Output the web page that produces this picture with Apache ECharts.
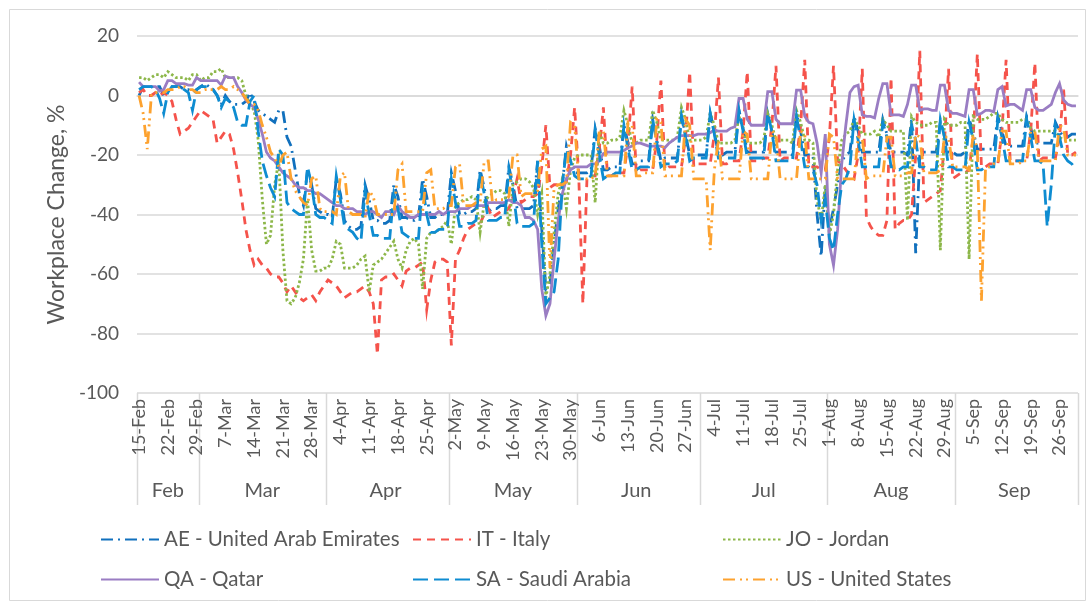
<!DOCTYPE html>
<html>
<head>
<meta charset="utf-8">
<script src="https://cdn.jsdelivr.net/npm/echarts@6/dist/echarts.min.js"></script>
<style>
  html, body { margin: 0; padding: 0; background: #fff; }
  #chart { width: 1092px; height: 605px; }
</style>
</head>
<body>
<div id="chart"></div>
<script>
// date range 15-Feb .. 30-Sep (2020), one point per day
const months = ['Feb', 'Mar', 'Apr', 'May', 'Jun', 'Jul', 'Aug', 'Sep'];
const monthFirstDay = [15, 1, 1, 1, 1, 1, 1, 1];
const monthLastDay = [29, 31, 30, 31, 30, 31, 31, 30];

// values by week, Sat..Fri
const ae = [
  0, 3, 3, 3, 3, 3, 0,
  2, 3, 3, 3, 2, 2, 1,
  2, 3, 4, 3, 2, 0, -3,
  0, -2, -3, -3, -3, -2, 1,
  -2, -5, -6, -7, -8, -9, -5,
  -5, -14, -17, -25, -33, -37, -25,
  -30, -38, -39, -40, -40, -41, -28,
  -33, -42, -44, -45, -45, -44, -30,
  -35, -42, -42, -43, -43, -42, -30,
  -34, -41, -41, -42, -42, -41, -28,
  -34, -41, -41, -40, -40, -40, -26,
  -32, -40, -40, -39, -39, -38, -25,
  -31, -39, -38, -38, -37, -37, -24,
  -30, -38, -38, -38, -38, -37, -22,
  -45, -65, -63, -50, -38, -30, -17,
  -22, -26, -26, -26, -26, -25, -11,
  -17, -25, -25, -24, -24, -24, -10,
  -16, -23, -23, -22, -22, -22, -8,
  -15, -22, -21, -21, -21, -21, -7,
  -13, -20, -20, -20, -20, -20, -6,
  -12, -20, -20, -19, -19, -19, -5,
  -11, -19, -19, -19, -19, -19, -6,
  -12, -19, -19, -19, -19, -20, -6,
  -12, -20, -20, -20, -40, -54, -30,
  -45, -38, -30, -22, -20, -19, -7,
  -12, -19, -19, -19, -19, -19, -8,
  -13, -19, -19, -19, -19, -20, -8,
  -53, -20, -19, -19, -19, -19, -9,
  -13, -19, -19, -20, -20, -19, -8,
  -12, -18, -18, -18, -18, -18, -7,
  -12, -17, -17, -17, -17, -17, -7,
  -11, -16, -16, -16, -16, -16, -9,
  -12, -14, -14, -13, -13
];
const it = [
  1, 2, 0, 0, 1, 0, 1,
  0, -2, -8, -13, -12, -11, -9,
  -7, -5, -6, -7, -8, -16, -14,
  -12, -13, -18, -26, -35, -45, -52,
  -57, -55, -57, -58, -60, -61, -61,
  -63, -66, -64, -66, -68, -69, -68,
  -67, -69, -66, -64, -62, -63, -64,
  -66, -68, -67, -66, -66, -65, -64,
  -66, -70, -87, -62, -61, -61, -60,
  -62, -64, -59, -58, -58, -57, -56,
  -72, -62, -56, -55, -55, -56, -84,
  -55, -52, -48, -45, -44, -43, -43,
  -40, -38, -41, -40, -39, -39, -38,
  -34, -28, -36, -35, -34, -34, -33,
  -24, -10, -31, -30, -30, -29, -29,
  -20, -4, -27, -70, -28, -27, -27,
  -18, -4, -27, -27, -26, -26, -26,
  -16, 3, -26, -25, -25, -25, -25,
  -15, 5, -25, -24, -24, -24, -24,
  -14, 8, -24, -23, -23, -23, -23,
  -13, 6, -23, -23, -22, -22, -22,
  -12, 8, -22, -22, -22, -21, -21,
  -10, 10, -22, -21, -21, -21, -21,
  -10, 12, -24, -24, -24, -25, -25,
  -14, 10, -22, -23, -25, -27, -28,
  -20, 9, -41, -44, -46, -47, -47,
  -42, 6, -45, -43, -42, -42, -40,
  -20, 15, -36, -35, -34, -33, -32,
  -16, 9, -28, -27, -26, -26, -25,
  -14, 14, -24, -24, -23, -23, -23,
  -12, 12, -22, -22, -22, -22, -22,
  -12, 11, -22, -21, -21, -21, -21,
  -14, 2, -20, -20, -19
];
const jo = [
  6, 6, 5, 6, 7, 7, 6,
  8, 7, 6, 6, 6, 5, 7,
  7, 5, 6, 6, 8, 8, 9,
  6, 6, 6, 6, 5, 0, -3,
  -5, -15, -35, -50, -47, -30, -22,
  -52, -69, -70, -68, -63, -55, -35,
  -52, -59, -59, -58, -58, -55, -49,
  -50, -58, -58, -58, -57, -55, -54,
  -66, -57, -56, -55, -53, -51, -49,
  -55, -58, -52, -49, -48, -50, -65,
  -48, -46, -46, -45, -44, -42, -50,
  -37, -36, -35, -35, -34, -35, -46,
  -36, -34, -33, -32, -32, -33, -44,
  -30, -29, -28, -28, -29, -31, -40,
  -33, -68, -60, -46, -33, -28, -38,
  -25, -21, -20, -20, -20, -20, -36,
  -12, -16, -16, -15, -15, -14, -5,
  -10, -16, -16, -15, -15, -15, -5,
  -9, -15, -15, -15, -15, -14, -4,
  -8, -15, -15, -15, -15, -14, -6,
  -10, -16, -16, -16, -16, -15, -7,
  -11, -16, -16, -16, -16, -15, -6,
  -10, -15, -15, -15, -15, -16, -5,
  -9, -15, -15, -16, -35, -42, -30,
  -47, -40, -25, -15, -13, -12, -8,
  -10, -13, -13, -13, -12, -14, -8,
  -10, -12, -12, -12, -12, -42, -7,
  -9, -10, -10, -10, -9, -9, -52,
  -8, -10, -10, -10, -9, -9, -55,
  -7, -8, -8, -8, -7, -6, -6,
  -8, -9, -9, -9, -9, -8, -8,
  -11, -12, -12, -12, -12, -12, -12,
  -14, -15, -15, -15, -15
];
const qa = [
  4.5, 3, 3, 3, 3, 1.5, 2,
  5, 5, 4, 4, 4, 3.5, 3.5,
  6, 5, 5, 5, 5, 5, 3.5,
  6.5, 6, 6, 3, 1, -1.5, -3,
  -4, -8, -13, -19, -21, -22, -24,
  -26, -27, -28, -30, -31, -31, -32,
  -32, -33, -33, -34, -35, -36, -37,
  -37, -38, -38, -38, -39, -39, -40,
  -39, -39, -40, -41, -39, -39, -40,
  -37, -39, -40, -41, -41, -40, -40,
  -40, -40, -40, -39, -40, -39, -39,
  -39, -38, -38, -38, -37, -37, -37,
  -37, -36, -36, -36, -36, -36, -35,
  -36, -36, -37, -41, -41, -42, -45,
  -65, -74, -70, -55, -42, -33, -28,
  -25, -24, -24, -24, -24, -23, -23,
  -22, -19.5, -19, -19, -19, -19, -18.5,
  -17.5, -17, -16, -16, -16.5, -17, -17,
  -17, -17, -17.5, -16, -15, -14, -13.5,
  -13.5, -13.5, -13.5, -13, -13, -13, -12.5,
  -11.5, -12, -12, -12, -11, -10.5, -1,
  -1, -8, -10, -10, -10, -10, 1.3,
  1.3, -8, -9.5, -9.5, -9.5, -9.5, 1.8,
  1.8, -7, -9, -9.5, -16, -26, -13,
  -50, -57, -45, -23, -10, 1, 3,
  3.5, -6.5, -7, -7, -7.5, -1, 4,
  4, -6.5, -6.5, -6.5, -7, -3, 3.5,
  3.5, -5, -4.5, -4.5, -5, -5, 3.5,
  3.5, -5, -6, -6, -6.5, -7, 2,
  2, -6.5, -6, -5, -5, -5.5, 2,
  3, -3.5, -3, -3, -4, -5, 2,
  2, -4, -5, -5, -4, -3, 1,
  4, -1.5, -3, -3.5, -3.5
];
const sa = [
  2, 3, 3, 3, 2, -1, -6,
  1, 3, 3, 3, 2, 1, -5,
  2, 3, 3, 3, 2, 0, -4,
  -1, -2, -4, -9, -10, -10, -2,
  0, -12, -22, -27, -31, -34, -18,
  -20, -36, -38, -39, -40, -40, -24,
  -30, -40, -41, -41, -42, -43, -27,
  -35, -44, -45, -46, -48, -49, -32,
  -40, -47, -47, -48, -48, -48, -33,
  -38, -46, -47, -48, -48, -48, -30,
  -40, -46, -46, -45, -45, -45, -28,
  -36, -44, -44, -43, -43, -42, -26,
  -33, -42, -42, -42, -41, -41, -25,
  -32, -43, -44, -44, -44, -43, -22,
  -50, -70, -68, -66, -55, -30, -18,
  -22, -27, -28, -28, -28, -27, -12,
  -20, -28, -27, -27, -26, -26, -10,
  -18, -25, -25, -24, -24, -24, -8,
  -16, -24, -23, -23, -23, -22, -7,
  -14, -22, -21, -21, -21, -21, -6,
  -13, -21, -21, -21, -21, -21, -5,
  -12, -21, -21, -21, -21, -21, -6,
  -12, -22, -22, -22, -22, -22, -7,
  -15, -24, -24, -25, -30, -42, -35,
  -48, -52, -40, -30, -28, -24, -8,
  -15, -24, -24, -24, -24, -24, -9,
  -14, -24, -24, -25, -24, -24, -10,
  -15, -24, -24, -25, -25, -25, -8,
  -14, -24, -24, -25, -25, -25, -9,
  -15, -25, -25, -24, -24, -24, -8,
  -14, -22, -22, -22, -22, -22, -8,
  -14, -22, -22, -23, -44, -30, -10,
  -14, -20, -22, -23, -25
];
const us = [
  0, -6, -18, 0, 1, 1, 1,
  2, 2, 2, 3, 3, 2, 2,
  1, 1, 2, 2, 2, 2, 3,
  2, 2, 3, 2, 1, -1, -3,
  -3, -5, -10, -14, -19, -21, -24,
  -20, -19, -28, -32, -34, -36, -37,
  -28, -27, -38, -39, -39, -39, -40,
  -27, -26, -39, -40, -40, -40, -41,
  -32, -34, -40, -40, -40, -40, -40,
  -25, -23, -39, -39, -39, -39, -39,
  -26, -25, -38, -38, -38, -37, -37,
  -24, -23, -37, -37, -37, -36, -36,
  -22, -22, -36, -35, -35, -35, -34,
  -20, -20, -34, -33, -33, -33, -32,
  -18, -17, -58, -31, -30, -30, -29,
  -9, -10, -28, -28, -28, -28, -27,
  -12, -12, -27, -27, -27, -27, -27,
  -9, -10, -27, -27, -26, -26, -26,
  -8, -9, -27, -27, -27, -27, -27,
  -8, -10, -28, -28, -28, -28, -52,
  -25, -15, -28, -28, -28, -28, -28,
  -12, -13, -28, -28, -28, -28, -28,
  -12, -13, -28, -28, -28, -28, -28,
  -12, -13, -28, -28, -28, -28, -28,
  -13, -14, -28, -28, -28, -28, -28,
  -14, -14, -28, -27, -27, -27, -27,
  -14, -14, -27, -27, -27, -26, -26,
  -13, -14, -26, -26, -26, -26, -25,
  -14, -14, -24, -24, -24, -24, -25,
  -13, -18, -69, -24, -24, -23, -23,
  -12, -12, -23, -23, -23, -22, -22,
  -12, -12, -22, -22, -22, -22, -22,
  -10, -11, -20, -20, -20
];

const seriesNames = [
  'AE - United Arab Emirates', 'IT - Italy', 'JO - Jordan',
  'QA - Qatar', 'SA - Saudi Arabia', 'US - United States'
];

const categories = [];
const monthStart = [];
const monthMid = [];
months.forEach((m, i) => {
  monthStart.push(categories.length);
  const len = monthLastDay[i] - monthFirstDay[i] + 1;
  monthMid.push(categories.length + Math.floor((len - 1) / 2));
  for (let d = monthFirstDay[i]; d <= monthLastDay[i]; d++) {
    categories.push(d + '-' + m);
  }
});

const font = 'Lato, "Open Sans", sans-serif';
const grey = '#595959';
const gridGrey = '#D9D9D9';

function line(name, data, color, type) {
  return {
    name, type: 'line', data,
    symbol: 'none',
    lineStyle: { color, width: 2.8, type, cap: 'butt', join: 'miter' },
    itemStyle: { color },
    emphasis: { disabled: true }
  };
}

const series = [
  line(seriesNames[0], ae, '#1170BD', [12, 5, 2, 5]),
  line(seriesNames[1], it, '#F5534B', [8, 6]),
  line(seriesNames[2], jo, '#8DB74A', [2.5, 2.5]),
  line(seriesNames[3], qa, '#9A7DC3', 'solid'),
  line(seriesNames[4], sa, '#0E8CD1', [15, 6]),
  line(seriesNames[5], us, '#FDA22F', [12, 5, 2, 4, 2, 5])
];

const legendSpots = [[95, 524], [407, 524], [717, 524], [95, 564], [407, 564], [717, 564]];
const legends = seriesNames.map((n, i) => ({
  data: [n],
  left: legendSpots[i][0],
  top: legendSpots[i][1],
  itemWidth: 58,
  itemHeight: 14,
  selectedMode: false,
  itemStyle: { color: 'rgba(0,0,0,0)', borderWidth: 0 },
  textStyle: { fontSize: 20.5, color: grey, fontFamily: font }
}));

const chart = echarts.init(document.getElementById('chart'));
chart.setOption({
  animation: false,
  backgroundColor: '#fff',
  grid: { left: 137, right: 14, top: 36, bottom: 212, containLabel: false },
  legend: legends,
  xAxis: [{
    type: 'category',
    data: categories,
    boundaryGap: true,
    axisLine: { show: true, lineStyle: { color: gridGrey, width: 1.5 } },
    axisTick: { show: false },
    axisLabel: {
      interval: (index) => index % 7 === 0,
      rotate: 90,
      margin: 6,
      fontSize: 18,
      color: grey,
      fontFamily: font
    },
    splitLine: { show: false }
  }, {
    type: 'category',
    data: categories,
    position: 'bottom',
    boundaryGap: true,
    axisLine: { show: false },
    axisTick: { show: false },
    axisLabel: {
      interval: (index) => monthMid.includes(index),
      formatter: (v) => v.split('-')[1],
      margin: 88,
      fontSize: 20,
      color: grey,
      fontFamily: font
    }
  }],
  yAxis: {
    type: 'value',
    min: -100,
    max: 20,
    interval: 20,
    name: 'Workplace Change, %',
    nameLocation: 'middle',
    nameGap: 68,
    nameTextStyle: { fontSize: 23, color: grey, fontFamily: font },
    axisLine: { show: false },
    axisTick: { show: false },
    axisLabel: { fontSize: 19, color: grey, fontFamily: font, margin: 18 },
    splitLine: { lineStyle: { color: gridGrey, width: 1.5 } }
  },
  series
});

// month separators of the two-level category axis + chart border
const half = (chart.convertToPixel({ xAxisIndex: 0 }, 1) - chart.convertToPixel({ xAxisIndex: 0 }, 0)) / 2;
const axisY = chart.convertToPixel({ yAxisIndex: 0 }, -100);
const bounds = monthStart.concat([categories.length]);
const separators = bounds.map((b) => {
  const x = b < categories.length
    ? chart.convertToPixel({ xAxisIndex: 0 }, b) - half
    : chart.convertToPixel({ xAxisIndex: 0 }, categories.length - 1) + half;
  return {
    type: 'line',
    silent: true,
    shape: { x1: Math.round(x) + 0.5, y1: axisY, x2: Math.round(x) + 0.5, y2: axisY + 112 },
    style: { stroke: gridGrey, lineWidth: 1.5 }
  };
});
chart.setOption({
  graphic: separators.concat([{
    type: 'rect',
    silent: true,
    shape: { x: 9.5, y: 9.5, width: 1076, height: 591 },
    style: { fill: 'none', stroke: gridGrey, lineWidth: 1 }
  }])
});
</script>
</body>
</html>
